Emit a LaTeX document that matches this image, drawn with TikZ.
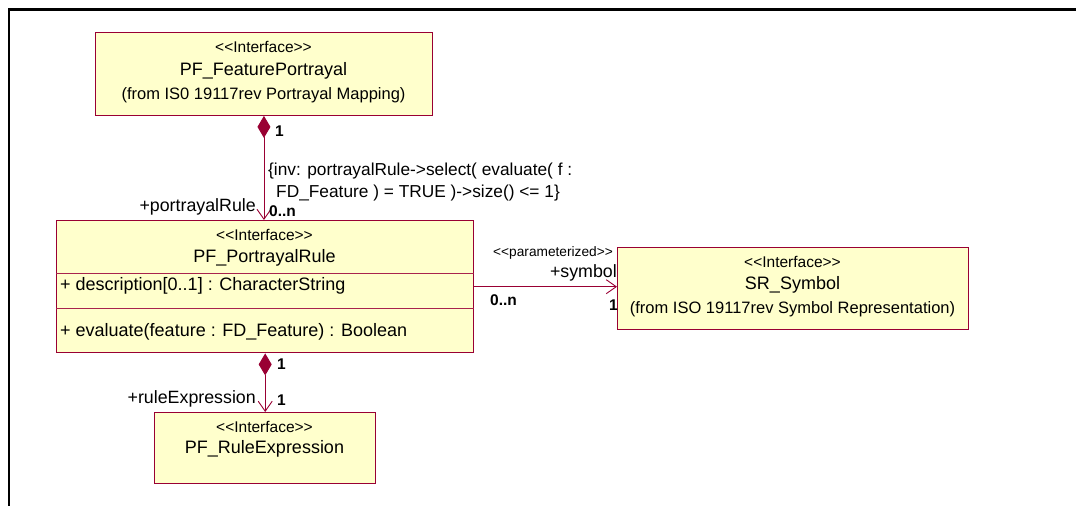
\documentclass[tikz,border=0pt]{standalone}
\usepackage{fontspec}
\setmainfont{Liberation Sans}[Ligatures=TeXOff]
\usetikzlibrary{arrows.meta}
\definecolor{umlred}{HTML}{990033}
\definecolor{umlline}{HTML}{A8234D}
\definecolor{umlfill}{HTML}{FFFFCC}
\begin{document}
\begin{tikzpicture}[x=1pt,y=-1pt,
  box/.style={draw=umlred, fill=umlfill, line width=0.9pt, inner sep=0pt, anchor=north west},
  selbox/.style={box, line width=1.4pt},
  compline/.style={draw=umlline, line width=0.8pt},
  ster/.style={inner sep=0pt, font=\fontsize{15.5}{17}\selectfont},
  ttl/.style={inner sep=0pt, font=\fontsize{18}{20}\selectfont},
  frm/.style={inner sep=0pt, font=\fontsize{16.5}{18}\selectfont},
  attr/.style={inner sep=0pt, anchor=west, font=\fontsize{18}{20}\selectfont},
  role/.style={inner sep=0pt, font=\fontsize{17.8}{19}\selectfont},
  mult/.style={inner sep=0pt, anchor=west, font=\bfseries\fontsize{15.5}{17}\selectfont},
  cons/.style={inner sep=0pt, anchor=west, font=\fontsize{17.3}{19}\selectfont},
  conn/.style={draw=umlred, line width=0.9pt},
  comp/.style={conn, {Diamond[length=22pt,width=13pt,fill=umlred]}-{Straight Barb[length=10pt,width=14pt]}},
  assoc/.style={conn, -{Straight Barb[length=10pt,width=14pt]}}
]
\useasboundingbox (0,0) rectangle (1076,506);
% frame
\draw[line width=2.6pt] (1076,9.5) -- (9,9.5) -- (9,506);

% PF_FeaturePortrayal
\node[box, minimum width=337pt, minimum height=83pt] (fp) at (95,32) {};
\node[ster] (fpS) at (263.5,47) {<<Interface>>};
\node[ttl] (fpT) at (263.5,71) {PF\_FeaturePortrayal};
\node[frm] (fpF) at (263.5,95) {(from IS0 19117rev Portrayal Mapping)};

% PF_PortrayalRule
\node[selbox, minimum width=417pt, minimum height=132pt] (pr) at (56,220) {};
\node[ster] (prS) at (264.5,235) {<<Interface>>};
\node[ttl] (prT) at (264.5,258) {PF\_PortrayalRule};
\draw[compline] ([yshift=-53pt]pr.north west) -- ([yshift=-53pt]pr.north east);
\draw[compline] ([yshift=-88pt]pr.north west) -- ([yshift=-88pt]pr.north east);
\node[attr] (prA) at (60,286) {+ description[0..1] : CharacterString};
\node[attr] (prO) at (60,332) {+ evaluate(feature : FD\_Feature) : Boolean};

% PF_RuleExpression
\node[box, minimum width=221pt, minimum height=71pt] (re) at (154,412) {};
\node[ster] (reS) at (264.5,427) {<<Interface>>};
\node[ttl] (reT) at (264.5,449) {PF\_RuleExpression};

% SR_Symbol
\node[box, minimum width=351pt, minimum height=82pt] (sy) at (617,247) {};
\node[ster] (syS) at (792.5,262) {<<Interface>>};
\node[ttl] (syT) at (792.5,285) {SR\_Symbol};
\node[frm] (syF) at (792.5,309) {(from ISO 19117rev Symbol Representation)};

% connectors
\draw[comp] (fp.south) -- (fp.south |- pr.north);
\draw[comp] (pr.south) -- (pr.south |- re.north);
\draw[assoc] (pr.east) -- (pr.east -| sy.west);

% labels of association 1
\node[mult] (m1) at (275,131) {1};
\node[cons] (c1) at (268,171) {\{inv: portrayalRule->select( evaluate( f :};
\node[cons] (c2) at (276,193) {FD\_Feature ) = TRUE )->size() <= 1\}};
\node[role, anchor=east] (r1) at (256,207) {+portrayalRule};
\node[mult] (m2) at (269,211) {0..n};

% labels of association 3
\node[mult] (m3) at (277,364) {1};
\node[role, anchor=east] (r2) at (256,399) {+ruleExpression};
\node[mult] (m4) at (277,400) {1};

% labels of association 3
\node[inner sep=0pt, anchor=west, font=\fontsize{13.7}{15}\selectfont] (p1) at (493,253) {<<parameterized>>};
\node[role, anchor=east] (r3) at (617,273) {+symbol};
\node[mult] (m5) at (490,300) {0..n};
\node[mult] (m6) at (609,305) {1};
\end{tikzpicture}
\end{document}
